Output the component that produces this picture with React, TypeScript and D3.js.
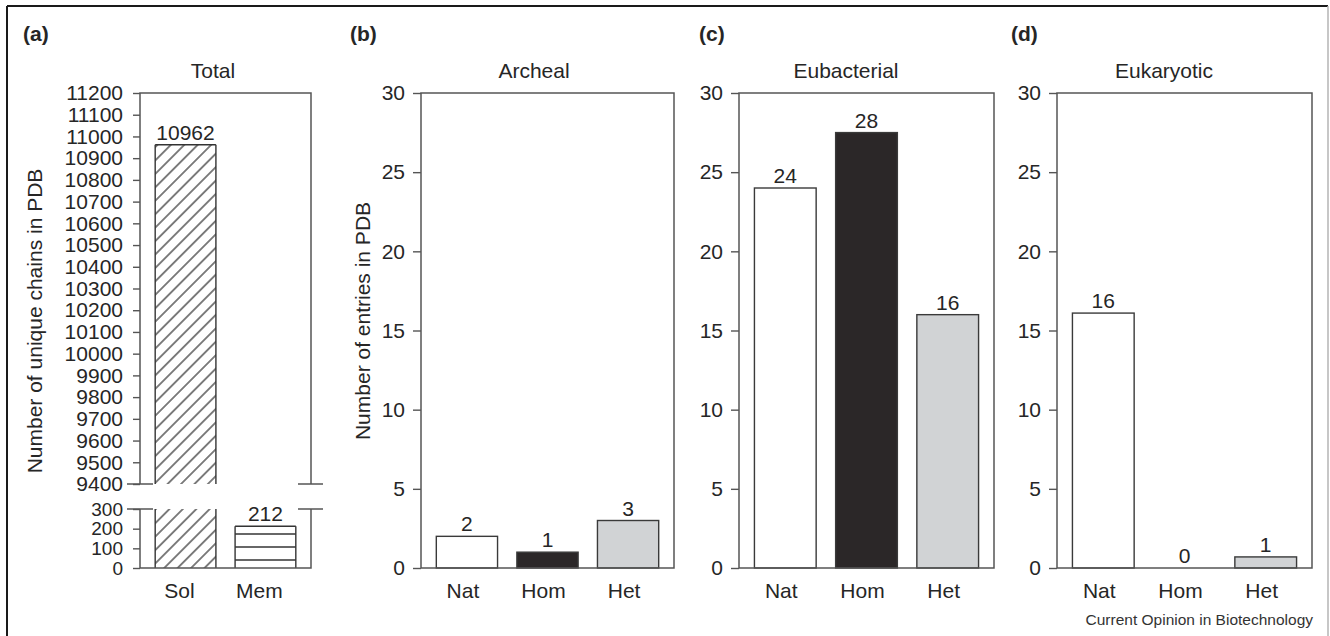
import React, { useEffect, useRef } from 'react';
import * as d3 from 'd3';

// panel (a) - total chains, broken axis
const totalCategories = ['Sol', 'Mem'];
const totalValues = [10962, 212];
const totalLabels = ['10962', '212'];
const totalUpperTicks = [9400, 9500, 9600, 9700, 9800, 9900, 10000, 10100, 10200, 10300, 10400, 10500, 10600, 10700, 10800, 10900, 11000, 11100, 11200];
const totalLowerTicks = [0, 100, 200, 300];

// panels (b)-(d)
const groupCategories = ['Nat', 'Hom', 'Het'];
const archealValues = [2, 1, 3];
const archealLabels = ['2', '1', '3'];
const eubacterialValues = [24, 27.5, 16];
const eubacterialLabels = ['24', '28', '16'];
const eukaryoticValues = [16.1, 0, 0.7];
const eukaryoticLabels = ['16', '0', '1'];
const countTicks = [0, 5, 10, 15, 20, 25, 30];
const groupFills = ['#ffffff', '#2b2728', '#d1d3d5'];

const FONT = '"Liberation Sans", Arial, Helvetica, sans-serif';
const FS = 21;
const TEXT = '#262626';
const AXIS = '#555555';
const TOP = 93;
const BOTTOM = 568;

const App: React.FC = () => {
  const svgRef = useRef<SVGSVGElement>(null);

  useEffect(() => {
    const svg = d3.select(svgRef.current);
    svg.selectAll('*').remove();
    svg.style('font-family', FONT);

    // patterns
    const defs = svg.append('defs');
    const diag = defs.append('pattern')
      .attr('id', 'diag')
      .attr('patternUnits', 'userSpaceOnUse')
      .attr('width', 9.5)
      .attr('height', 9.5)
      .attr('patternTransform', 'rotate(45)');
    diag.append('line')
      .attr('x1', 4.75).attr('x2', 4.75).attr('y1', 0).attr('y2', 9.5)
      .attr('stroke', '#2a2a2a').attr('stroke-width', 1.2);
    const horiz = defs.append('pattern')
      .attr('id', 'horiz')
      .attr('patternUnits', 'userSpaceOnUse')
      .attr('x', 0).attr('y', -5)
      .attr('width', 40)
      .attr('height', 13);
    horiz.append('line')
      .attr('x1', 0).attr('x2', 40).attr('y1', 6).attr('y2', 6)
      .attr('stroke', '#333').attr('stroke-width', 1.3);

    // outer frame
    svg.append('line').attr('x1', 7).attr('x2', 1328).attr('y1', 6).attr('y2', 6)
      .attr('stroke', '#1a1a1a').attr('stroke-width', 2);
    svg.append('line').attr('x1', 7).attr('x2', 7).attr('y1', 6).attr('y2', 636)
      .attr('stroke', '#1a1a1a').attr('stroke-width', 2);
    svg.append('line').attr('x1', 1328).attr('x2', 1328).attr('y1', 6).attr('y2', 636)
      .attr('stroke', '#b5b5b5').attr('stroke-width', 1.5);

    const styleAxis = (g: d3.Selection<SVGGElement, unknown, null, undefined>, size = FS) => {
      g.select('.domain').remove();
      g.selectAll('.tick line').attr('stroke', AXIS).attr('stroke-width', 1.4);
      g.selectAll('.tick text')
        .attr('fill', TEXT)
        .attr('font-size', size)
        .attr('font-family', FONT);
    };

    const headers = (letter: string, lx: number, title: string, tx: number) => {
      svg.append('text').attr('x', lx).attr('y', 41)
        .attr('font-size', FS).attr('font-weight', 'bold').attr('fill', TEXT)
        .text(letter);
      svg.append('text').attr('x', tx).attr('y', 78)
        .attr('text-anchor', 'middle').attr('font-size', FS).attr('fill', TEXT)
        .text(title);
    };

    const yTitle = (x: number, label: string) => {
      svg.append('text')
        .attr('transform', `translate(${x},321) rotate(-90)`)
        .attr('text-anchor', 'middle')
        .attr('dy', '0.35em')
        .attr('font-size', FS)
        .attr('fill', TEXT)
        .text(label);
    };

    // ---------- panel (a) ----------
    {
      const x0 = 140, x1 = 311;
      const breakTop = 484, breakBottom = 509;
      headers('(a)', 23, 'Total', 213);
      yTitle(35, 'Number of unique chains in PDB');

      const x = d3.scaleBand<string>().domain(totalCategories).range([x0, x1])
        .paddingInner(0.24).paddingOuter(0.19);
      const yU = d3.scaleLinear().domain([9400, 11200]).range([breakTop, TOP]);
      const yL = d3.scaleLinear().domain([0, 300]).range([BOTTOM, breakBottom]);

      const fills = ['url(#diag)', 'url(#horiz)'];
      totalValues.forEach((v, i) => {
        const bx = x(totalCategories[i]) as number;
        const bw = x.bandwidth();
        const lowTop = yL(Math.min(v, 300));
        svg.append('rect').attr('x', bx).attr('y', lowTop)
          .attr('width', bw).attr('height', BOTTOM - lowTop)
          .attr('fill', fills[i]).attr('stroke', 'none');
        [bx, bx + bw].forEach(ax => {
          svg.append('line').attr('x1', ax).attr('x2', ax)
            .attr('y1', lowTop).attr('y2', BOTTOM)
            .attr('stroke', '#333').attr('stroke-width', 1.4);
        });
        let top = lowTop;
        if (v > 300) {
          top = yU(v);
          svg.append('rect').attr('x', bx).attr('y', top)
            .attr('width', bw).attr('height', breakTop - top)
            .attr('fill', fills[i]);
          [bx, bx + bw].forEach(ax => {
            svg.append('line').attr('x1', ax).attr('x2', ax).attr('y1', top).attr('y2', breakTop)
              .attr('stroke', '#333').attr('stroke-width', 1.4);
          });
        }
        svg.append('line').attr('x1', bx).attr('x2', bx + bw).attr('y1', top).attr('y2', top)
          .attr('stroke', '#333').attr('stroke-width', 1.4);
        svg.append('text').attr('x', bx + bw / 2).attr('y', top - 5)
          .attr('text-anchor', 'middle').attr('font-size', FS).attr('fill', TEXT)
          .text(totalLabels[i]);
        svg.append('text').attr('x', bx + bw / 2 - 6).attr('y', 598)
          .attr('text-anchor', 'middle').attr('font-size', FS).attr('fill', TEXT)
          .text(totalCategories[i]);
      });

      // axes
      const gU = svg.append('g').attr('transform', `translate(${x0},0)`)
        .call(d3.axisLeft(yU).tickValues(totalUpperTicks).tickSize(7).tickPadding(10).tickFormat(d3.format('d')));
      styleAxis(gU);
      const gL = svg.append('g').attr('transform', `translate(${x0},0)`)
        .call(d3.axisLeft(yL).tickValues(totalLowerTicks).tickSize(7).tickPadding(10).tickFormat(d3.format('d')));
      styleAxis(gL, 19);

      const frame = svg.append('g').attr('stroke', AXIS).attr('stroke-width', 1.5).attr('fill', 'none');
      frame.append('path').attr('d', `M${x0},${breakTop}V${TOP}H${x1}V${breakTop}`);
      frame.append('path').attr('d', `M${x0},${breakBottom}V${BOTTOM}H${x1}V${breakBottom}`);
      [breakTop, breakBottom].forEach(by => {
        frame.append('line').attr('x1', x0 - 13).attr('x2', x0 + 13).attr('y1', by).attr('y2', by);
        frame.append('line').attr('x1', x1 - 13).attr('x2', x1 + 12).attr('y1', by).attr('y2', by);
      });
    }

    // ---------- panels (b)-(d) ----------
    const panels = [
      { x0: 421, x1: 674, letter: '(b)', lx: 350, title: 'Archeal', tx: 534, values: archealValues, labels: archealLabels, yLabel: 'Number of entries in PDB' },
      { x0: 739, x1: 994, letter: '(c)', lx: 699, title: 'Eubacterial', tx: 846, values: eubacterialValues, labels: eubacterialLabels, yLabel: '' },
      { x0: 1057, x1: 1312, letter: '(d)', lx: 1011, title: 'Eukaryotic', tx: 1164, values: eukaryoticValues, labels: eukaryoticLabels, yLabel: '' },
    ];

    panels.forEach(p => {
      headers(p.letter, p.lx, p.title, p.tx);
      if (p.yLabel) yTitle(363, p.yLabel);

      const x = d3.scaleBand<string>().domain(groupCategories).range([p.x0, p.x1])
        .paddingInner(0.24).paddingOuter(0.19);
      const y = d3.scaleLinear().domain([0, 30]).range([BOTTOM, TOP]);
      const rows = p.values.map((v, i) => ({ v, i }));

      const g = svg.append('g');
      g.selectAll('rect.bar')
        .data(rows.filter(d => d.v > 0))
        .enter().append('rect')
        .attr('class', 'bar')
        .attr('x', d => x(groupCategories[d.i]) as number)
        .attr('y', d => y(d.v))
        .attr('width', x.bandwidth())
        .attr('height', d => BOTTOM - y(d.v))
        .attr('fill', d => groupFills[d.i])
        .attr('stroke', '#3a3a3a')
        .attr('stroke-width', 1.4);

      g.selectAll('text.val')
        .data(rows)
        .enter().append('text')
        .attr('class', 'val')
        .attr('x', d => (x(groupCategories[d.i]) as number) + x.bandwidth() / 2)
        .attr('y', d => y(d.v) - 5)
        .attr('text-anchor', 'middle')
        .attr('font-size', FS)
        .attr('fill', TEXT)
        .text(d => p.labels[d.i]);

      g.selectAll('text.cat')
        .data(groupCategories)
        .enter().append('text')
        .attr('class', 'cat')
        .attr('x', d => (x(d) as number) + x.bandwidth() / 2 - 4)
        .attr('y', 598)
        .attr('text-anchor', 'middle')
        .attr('font-size', FS)
        .attr('fill', TEXT)
        .text(d => d);

      const ga = svg.append('g').attr('transform', `translate(${p.x0},0)`)
        .call(d3.axisLeft(y).tickValues(countTicks).tickSize(8).tickPadding(8));
      styleAxis(ga);

      svg.append('rect')
        .attr('x', p.x0).attr('y', TOP)
        .attr('width', p.x1 - p.x0).attr('height', BOTTOM - TOP)
        .attr('fill', 'none').attr('stroke', AXIS).attr('stroke-width', 1.5);
    });

    svg.append('text')
      .attr('x', 1313).attr('y', 625)
      .attr('text-anchor', 'end')
      .attr('font-size', 15.5)
      .attr('fill', '#333')
      .text('Current Opinion in Biotechnology');
  }, []);

  return (
    <div style={{ width: 1330, height: 636 }}>
      <style>{'body{margin:0}'}</style>
      <svg ref={svgRef} width={1330} height={636} style={{ display: 'block', background: '#fff' }}></svg>
    </div>
  );
};

export default App;
